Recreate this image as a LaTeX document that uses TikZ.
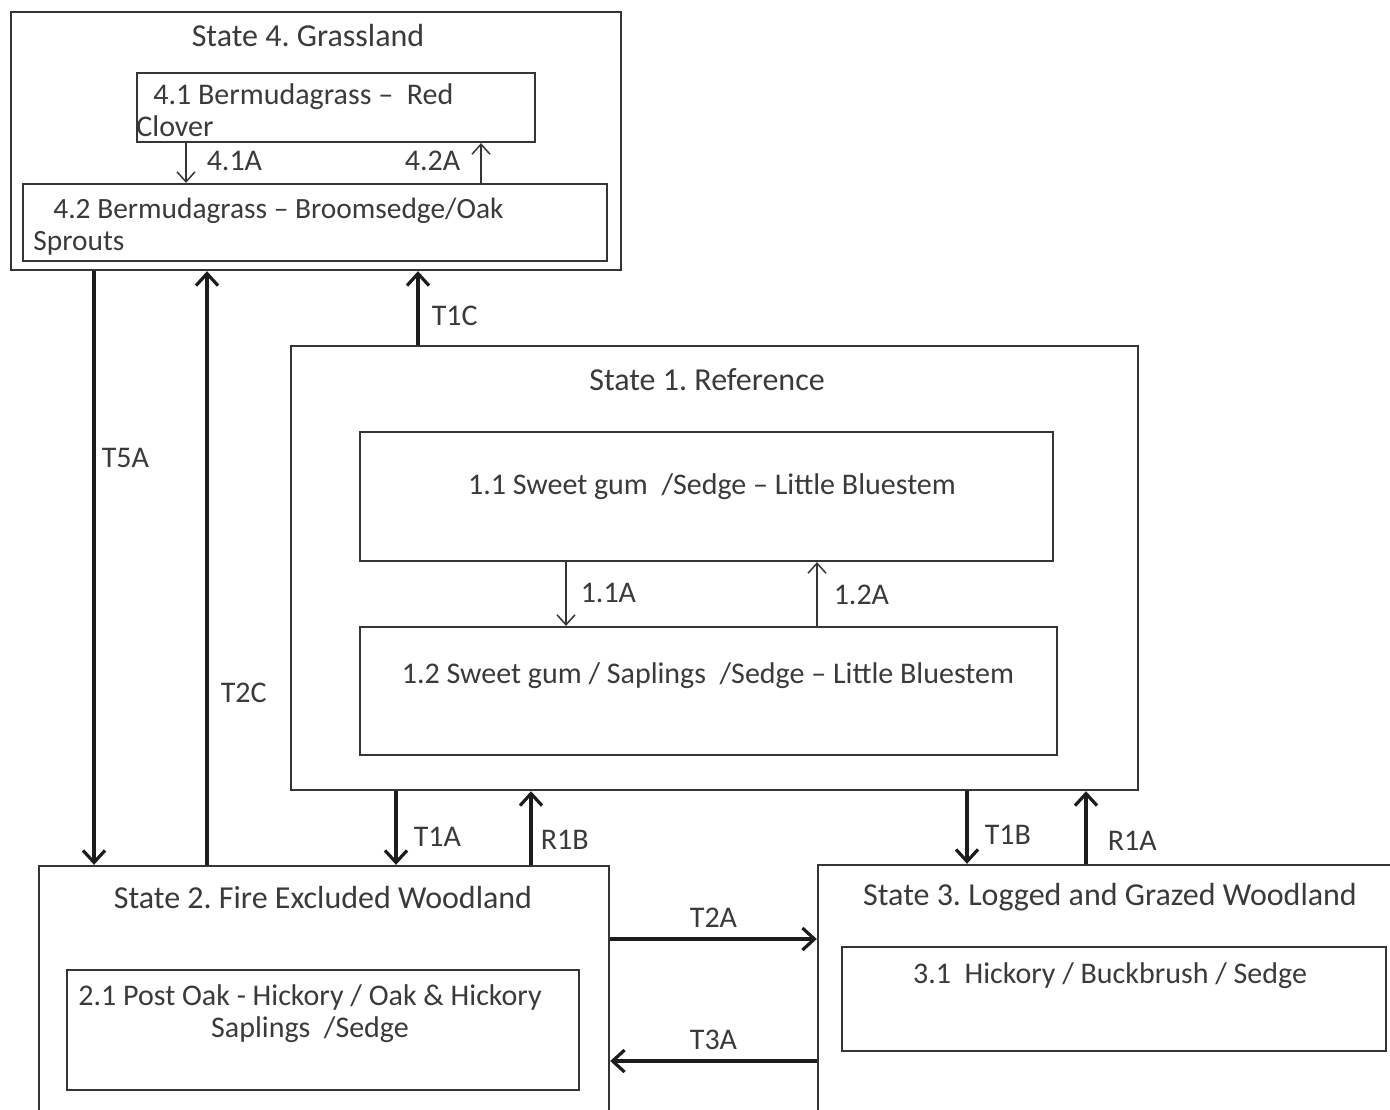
\documentclass[tikz,border=0pt]{standalone}
\usepackage{fontspec}
\setmainfont{Carlito}
\frenchspacing
\usetikzlibrary{arrows.meta,positioning}
\definecolor{ink}{HTML}{353535}
\definecolor{txtgray}{HTML}{3A3A3A}
\definecolor{arrowink}{HTML}{1C1C1C}
\tikzset{
  every node/.style={font=\fontsize{15}{16}\selectfont,text=txtgray},
  statebox/.style={draw=ink,line width=1.2pt,inner sep=0pt},
  phasebox/.style={draw=ink,line width=1.1pt,inner sep=0pt},
  statetitle/.style={font=\fontsize{16}{18}\selectfont,inner sep=0pt},
  phasetext/.style={inner sep=0pt},
  transarr/.style={-{Straight Barb[length=6pt,width=11pt,line width=1.6pt]},line width=1.8pt,draw=arrowink},
  phasearr/.style={-{Straight Barb[length=5pt,width=9pt]},line width=0.75pt,draw=ink},
  lab/.style={inner sep=0pt}
}
\begin{document}
\begin{tikzpicture}[x=0.5pt,y=-0.5pt]
  \useasboundingbox (0,0) rectangle (1390,1109);
  \clip (0,0) rectangle (1390,1109);

  % state 4
  \node[statebox,minimum width=305pt,minimum height=129pt] (s4) at (316,141) {};
  \node[statetitle] (s4t) at (308,36) {State 4. Grassland};
  \node[phasebox,minimum width=199pt,minimum height=34.5pt] (p41) at (336,107.5) {};
  \node[phasetext,anchor=west,align=left] (p41t) at (136,110) {\hspace*{8.5pt}4.1 Bermudagrass --\ \ Red\\Clover};
  \node[phasebox,minimum width=292pt,minimum height=38.5pt] (p42) at (315,222.5) {};
  \node[phasetext,anchor=west,align=left,font=\fontsize{14.7}{16}\selectfont] (p42t) at (33,227) {\hspace*{10pt}4.2 Bermudagrass -- Broomsedge/Oak\\Sprouts};

  % state 1
  \node[statebox,minimum width=423.5pt,minimum height=222pt] (s1) at (714.5,568) {};
  \node[statetitle] (s1t) at (707,380) {State 1. Reference};
  \node[phasebox,minimum width=346.5pt,minimum height=64.5pt] (p11) at (706.5,496.5) {};
  \node[phasetext] (p11t) at (712,487) {1.1 Sweet gum\ \ /Sedge -- Little\ Bluestem};
  \node[phasebox,minimum width=348.5pt,minimum height=64pt] (p12) at (708.5,691) {};
  \node[phasetext] (p12t) at (708,676) {1.2 Sweet gum / Saplings\ \ /Sedge -- Little Bluestem};

  % state 2
  \node[statebox,minimum width=285pt,minimum height=132pt] (s2) at (324,998) {};
  \node[statetitle] (s2t) at (323,897) {State 2. Fire Excluded Woodland};
  \node[phasebox,minimum width=256pt,minimum height=60pt] (p21) at (323,1030) {};
  \node[phasetext,align=center] (p21t) at (310,1014) {2.1 Post Oak - Hickory / Oak \& Hickory\\Saplings\ \ /Sedge};

  % state 3
  \node[statebox,minimum width=291pt,minimum height=132.5pt] (s3) at (1109,997.5) {};
  \node[statetitle] (s3t) at (1110,897) {State 3. Logged and Grazed Woodland};
  \node[phasebox,minimum width=272pt,minimum height=52pt] (p31) at (1114,999) {};
  \node[phasetext] (p31t) at (1110,976) {3.1\ \ Hickory / Buckbrush / Sedge};

  % community shifts
  \draw[phasearr] (p41.south -| 186,0) -- (p42.north -| 186,0) node[lab,pos=.45,right=10pt]{4.1A};
  \draw[phasearr] (p42.north -| 481,0) -- (p41.south -| 481,0) node[lab,pos=.55,left=10pt]{4.2A};
  \draw[phasearr] (p11.south -| 566,0) -- (p12.north -| 566,0) node[lab,pos=.48,right=7pt]{1.1A};
  \draw[phasearr] (p12.north -| 817,0) -- (p11.south -| 817,0) node[lab,pos=.48,right=8pt]{1.2A};

  % transitions
  \draw[transarr] (s4.south -| 94,0) -- (s2.north -| 94,0) node[lab,pos=.315,right=3pt]{T5A};
  \draw[transarr] (s2.north -| 207,0) -- (s4.south -| 207,0) node[lab,pos=.29,right=6pt]{T2C};
  \draw[transarr] (s1.north -| 418,0) -- (s4.south -| 418,0) node[lab,pos=.4,right=6pt]{T1C};
  \draw[transarr] (s1.south -| 396,0) -- (s2.north -| 396,0) node[lab,pos=.62,right=8pt]{T1A};
  \draw[transarr] (s2.north -| 531,0) -- (s1.south -| 531,0) node[lab,pos=.34,right=4pt]{R1B};
  \draw[transarr] (s1.south -| 967,0) -- (s3.north -| 967,0) node[lab,pos=.6,right=8pt]{T1B};
  \draw[transarr] (s3.north -| 1086,0) -- (s1.south -| 1086,0) node[lab,pos=.32,right=10pt]{R1A};
  \draw[transarr] (s2.east |- 0,939) -- (s3.west |- 0,939) node[lab,midway,above=5pt]{T2A};
  \draw[transarr] (s3.west |- 0,1061) -- (s2.east |- 0,1061) node[lab,midway,above=5pt]{T3A};
\end{tikzpicture}
\end{document}
